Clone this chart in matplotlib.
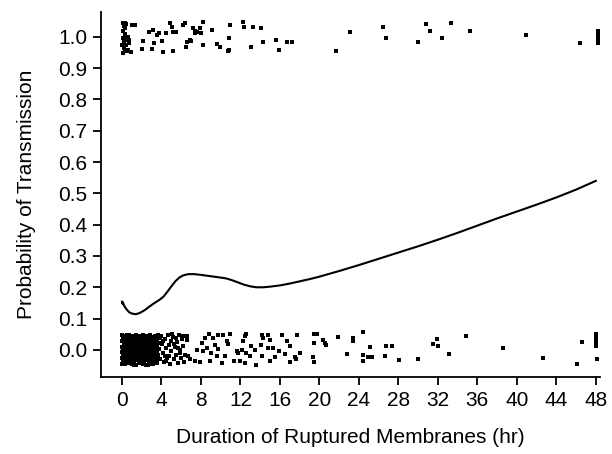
import matplotlib
matplotlib.use("Agg")
import matplotlib.pyplot as plt

plt.rcParams["font.family"] = ["Liberation Sans", "DejaVu Sans"]

# smoothed probability curve
curve_x = [0.0, 0.05, 0.1, 0.2, 0.4, 0.7, 1.0, 1.4, 1.8, 2.3, 2.8, 3.3, 3.8, 4.2,
           4.6, 5.0, 5.4, 5.8, 6.2, 6.7, 7.3, 7.9, 8.6, 9.3, 10.0, 10.6, 11.2,
           11.8, 12.4, 13.0, 13.6, 14.3, 15.0, 16.0, 17.0, 18.0, 19.0, 20.0, 22,
           24, 26, 28, 30, 32, 34, 36, 38, 40, 42, 44, 46, 48]
curve_y = [0.154, 0.147, 0.152, 0.142, 0.132, 0.121, 0.116, 0.114, 0.118, 0.127,
           0.139, 0.150, 0.160, 0.170, 0.186, 0.203, 0.219, 0.231, 0.238, 0.242,
           0.242, 0.240, 0.237, 0.234, 0.231, 0.228, 0.222, 0.215, 0.208, 0.203,
           0.200, 0.200, 0.202, 0.206, 0.212, 0.219, 0.226, 0.234, 0.252, 0.271,
           0.291, 0.311, 0.331, 0.352, 0.374, 0.397, 0.420, 0.442, 0.464, 0.487,
           0.512, 0.540]

# jittered observations, not transmitted (around 0)
neg_dense = [
    (0.0, 0.047), (0.3, 0.044), (0.7, 0.048), (1.0, 0.045), (1.4, 0.047), (1.7, 0.043),
    (2.1, 0.048), (2.5, 0.045), (2.8, 0.047), (3.3, 0.044), (3.6, 0.046),
    (0.1, 0.037), (0.5, 0.039), (0.8, 0.035), (1.2, 0.038), (1.5, 0.036), (1.9, 0.039),
    (2.3, 0.035), (2.6, 0.038), (3.0, 0.036), (3.5, 0.034),
    (0.0, 0.028), (0.3, 0.026), (0.6, 0.029), (1.0, 0.027), (1.3, 0.030), (1.7, 0.026),
    (2.0, 0.028), (2.4, 0.025), (2.7, 0.029), (3.1, 0.027), (3.4, 0.024),
    (0.2, 0.019), (0.5, 0.017), (0.9, 0.020), (1.2, 0.018), (1.6, 0.016), (1.9, 0.020),
    (2.2, 0.018), (2.6, 0.015), (2.9, 0.019), (3.3, 0.017), (3.7, 0.021),
    (0.0, 0.010), (0.4, 0.008), (0.7, 0.011), (1.1, 0.009), (1.4, 0.007), (1.8, 0.011),
    (2.1, 0.008), (2.5, 0.010), (2.8, 0.006), (3.2, 0.009), (3.5, 0.012),
    (0.1, 0.001), (0.4, -0.001), (0.8, 0.002), (1.1, 0.000), (1.5, -0.002), (2.0, 0.001),
    (2.3, -0.001), (2.7, 0.002), (3.0, -0.002), (3.4, 0.000),
    (0.0, -0.008), (0.3, -0.010), (0.6, -0.007), (1.0, -0.009), (1.3, -0.011), (1.7, -0.007),
    (2.0, -0.009), (2.4, -0.006), (2.8, -0.010), (3.1, -0.008), (3.5, -0.011),
    (0.2, -0.017), (0.5, -0.019), (0.9, -0.016), (1.2, -0.018), (1.6, -0.015), (1.9, -0.019),
    (2.3, -0.017), (2.6, -0.020), (2.9, -0.016), (3.3, -0.018),
    (0.0, -0.026), (0.4, -0.024), (0.7, -0.027), (1.1, -0.025), (1.4, -0.028), (1.8, -0.024),
    (2.1, -0.026), (2.5, -0.029), (2.8, -0.025), (3.2, -0.027), (3.6, -0.023),
    (0.1, -0.035), (0.4, -0.037), (0.8, -0.034), (1.2, -0.036), (1.5, -0.033), (1.9, -0.037),
    (2.2, -0.035), (2.6, -0.032), (3.0, -0.036), (3.4, -0.034),
    (0.0, -0.044), (0.3, -0.046), (0.7, -0.043), (1.0, -0.045), (1.4, -0.047), (1.7, -0.043),
    (2.1, -0.045), (2.4, -0.048), (2.8, -0.044), (3.1, -0.046), (3.5, -0.042),
    (0.15, 0.042), (0.55, 0.031), (0.95, 0.023), (1.35, 0.013), (1.75, 0.004), (2.15, -0.004),
    (2.55, -0.013), (2.95, -0.021), (3.35, -0.030), (0.35, -0.040), (0.85, -0.030),
    (1.55, -0.022), (2.35, 0.032), (2.95, 0.041), (1.85, 0.033), (0.6, 0.005),
    (1.25, -0.040), (3.2, 0.002), (0.45, 0.022), (2.7, -0.039),
    (0.2, 0.032), (0.85, 0.042), (1.15, 0.023), (1.6, 0.041), (2.25, 0.023), (2.65, 0.032),
    (3.15, 0.040), (3.55, 0.028), (0.25, 0.005), (0.95, 0.004), (1.55, 0.012), (2.35, 0.005),
    (2.95, 0.012), (3.7, 0.004), (0.15, -0.013), (0.75, -0.012), (1.45, -0.004),
    (2.2, -0.013), (3.05, -0.004), (3.6, -0.016), (0.25, -0.030), (1.0, -0.031),
    (1.7, -0.030), (2.4, -0.022), (3.0, -0.029), (0.55, -0.043), (1.2, -0.047),
    (1.9, -0.041), (2.6, -0.047), (3.3, -0.040), (0.5, 0.046), (2.0, 0.040),
    (1.05, 0.014), (2.45, 0.018), (3.8, -0.030), (3.8, 0.038), (0.65, -0.022),
]
neg_mid = [
    (4.0, 0.045), (4.1, 0.020), (4.2, -0.010), (4.3, -0.040), (4.4, 0.035), (4.5, 0.005),
    (4.6, -0.025), (4.7, 0.048), (4.8, 0.015), (4.9, -0.045), (5.0, -0.005), (5.0, 0.030),
    (5.2, 0.042), (5.3, -0.030), (5.4, 0.010), (5.5, -0.015), (5.6, 0.025), (5.7, -0.042),
    (5.8, 0.047), (5.9, 0.000), (6.0, -0.025), (6.1, 0.035), (6.2, 0.012), (6.3, -0.038),
    (4.2, 0.028), (4.5, -0.035), (4.8, -0.018), (5.1, 0.050), (5.5, 0.038), (5.9, -0.010),
    (6.2, 0.045), (4.4, -0.020), (5.3, 0.018), (5.7, 0.005), (6.4, -0.015),
    (6.55, 0.044), (6.55, 0.033), (6.7, -0.020), (6.9, -0.030), (7.56, 0.001), (7.4, -0.036),
    (7.9, -0.040), (8.07, 0.022), (8.2, -0.004), (8.4, 0.038), (8.6, 0.006), (8.8, 0.052),
    (8.9, -0.036), (9.0, -0.010), (9.25, 0.038), (9.4, 0.017), (9.6, -0.020), (9.75, 0.049),
    (9.75, 0.003), (10.1, -0.042), (10.26, 0.049), (10.4, -0.020), (10.6, 0.028),
    (10.7, 0.020), (10.9, 0.052), (11.3, -0.036), (11.6, -0.004), (11.8, -0.010),
    (12.0, -0.036), (12.2, 0.001), (12.3, 0.028), (12.45, 0.044), (12.45, -0.042),
    (12.6, 0.052), (12.6, -0.010), (12.96, -0.020), (13.1, 0.012), (13.5, 0.001),
    (13.6, -0.047), (14.1, 0.017), (14.2, -0.020),
]
neg_sparse = [
    (14.15, 0.049), (14.3, 0.038), (14.8, 0.049), (14.8, 0.006), (14.95, 0.033),
    (15.0, -0.036), (15.3, 0.007), (15.5, -0.023), (15.9, -0.003), (16.2, 0.046),
    (16.5, -0.013), (16.7, 0.029), (17.0, 0.011), (17.0, -0.040), (17.5, -0.023),
    (17.6, -0.030), (17.7, 0.048), (18.0, -0.011), (19.3, -0.023), (19.4, 0.023),
    (19.5, 0.050), (19.5, -0.040), (19.8, 0.050), (20.4, 0.032), (20.6, 0.021),
    (20.7, 0.017), (21.9, 0.041), (22.8, -0.014), (23.4, 0.037), (23.4, 0.028),
    (24.4, 0.058), (24.4, -0.037), (24.4, -0.015), (24.9, -0.023), (25.1, 0.009),
    (25.3, -0.023), (26.6, -0.019), (26.7, 0.011), (27.4, 0.014), (28.1, -0.032),
    (30.0, -0.030), (31.5, 0.019), (31.9, 0.035), (32.0, 0.011), (33.1, -0.014),
    (34.8, 0.043), (38.6, 0.007), (42.7, -0.027), (46.1, -0.045), (46.6, 0.025),
    (48.0, 0.050), (48.0, 0.042), (48.0, 0.034), (48.0, 0.024), (48.0, 0.014),
    (48.1, -0.030),
]

# jittered observations, transmitted (around 1)
pos_pts = [
    (0.1, 1.045), (0.2, 1.035), (0.15, 1.020), (0.3, 1.010), (0.1, 0.995), (0.25, 0.985),
    (0.4, 0.975), (0.2, 0.965), (0.5, 0.955), (0.1, 0.950), (0.6, 1.000), (0.7, 0.990),
    (0.45, 1.040), (0.05, 0.975), (0.3, 1.044), (0.3, 1.028), (0.4, 1.001), (0.54, 0.990),
    (0.74, 0.980), (0.64, 0.958), (0.3, 0.958), (0.98, 1.038), (1.32, 1.038), (0.88, 0.953),
    (2.0, 0.961), (2.16, 0.988), (2.76, 1.017), (3.0, 0.961), (3.17, 1.022), (3.24, 0.980),
    (3.5, 1.006), (3.78, 1.012), (4.1, 0.987), (4.2, 0.953), (4.5, 1.012), (4.86, 1.044),
    (5.1, 1.033), (5.2, 1.017), (5.5, 1.017), (5.2, 0.956), (6.2, 1.038), (6.4, 1.044),
    (6.6, 0.983), (6.9, 0.990), (6.5, 0.969), (7.0, 0.988), (7.2, 1.028), (7.4, 1.012),
    (7.4, 1.020), (7.6, 1.015), (7.9, 1.028), (8.0, 1.012), (8.2, 1.049), (8.2, 0.974),
    (9.1, 1.022), (9.6, 0.977), (9.9, 0.969), (10.7, 0.956), (10.8, 0.996), (10.9, 1.038),
    (10.8, 0.958), (12.3, 1.049), (12.4, 1.033), (13.1, 0.969), (13.3, 1.033), (14.1, 1.028),
    (14.3, 0.985), (15.6, 0.990), (15.9, 0.958), (16.7, 0.985), (17.2, 0.983), (21.7, 0.956),
    (23.1, 1.015), (26.4, 1.031), (26.7, 0.996), (30.0, 0.983), (30.8, 1.042), (31.2, 1.020),
    (32.4, 0.996), (33.3, 1.044), (35.3, 1.019), (40.9, 1.006), (46.4, 0.980), (48.2, 1.020),
    (48.2, 1.010), (48.2, 1.000), (48.2, 0.990), (48.2, 0.980),
]

x_ticks = [0, 4, 8, 12, 16, 20, 24, 28, 32, 36, 40, 44, 48]
y_ticks = [0.0, 0.1, 0.2, 0.3, 0.4, 0.5, 0.6, 0.7, 0.8, 0.9, 1.0]

fig = plt.figure(figsize=(6.12, 4.54), dpi=100)
ax = fig.add_axes([0.165, 0.170, 0.815, 0.804])

for pts in (neg_dense, neg_mid, neg_sparse, pos_pts):
    xs, ys = zip(*pts)
    ax.scatter(xs, ys, s=6, color="black", linewidths=0, marker="s")

ax.plot(curve_x, curve_y, color="black", lw=1.5, solid_joinstyle="round")

ax.set_xlim(-2.13, 48.4)
ax.set_ylim(-0.086, 1.08)
ax.set_xticks(x_ticks)
ax.set_yticks(y_ticks)
ax.set_yticklabels([f"{v:.1f}" for v in y_ticks])
for side in ("top", "right"):
    ax.spines[side].set_visible(False)
for side in ("left", "bottom"):
    ax.spines[side].set_linewidth(1.3)
ax.tick_params(direction="out", length=6, width=1.3, labelsize=15, pad=4)

ax.set_xlabel("Duration of Ruptured Membranes (hr)", fontsize=15, labelpad=13)
ax.set_ylabel("Probability of Transmission", fontsize=15, labelpad=16)

fig.savefig("out.png", dpi=100)
